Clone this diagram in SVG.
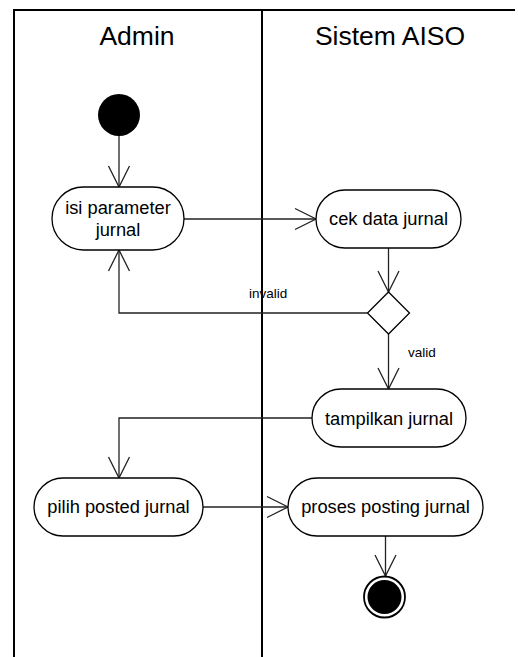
<svg xmlns="http://www.w3.org/2000/svg" width="518" height="657" viewBox="0 0 518 657">
<style>
.lane{stroke:#000;stroke-width:2;fill:none}
.hdr{font-family:"Liberation Sans",Arial,sans-serif;font-size:26.5px;fill:#000;text-anchor:middle}
.act{fill:#fff;stroke:#000;stroke-width:1.3}
.lbl{font-family:"Liberation Sans",Arial,sans-serif;font-size:18.3px;fill:#000;text-anchor:middle}
.guard{font-family:"Liberation Sans",Arial,sans-serif;font-size:13.5px;fill:#000}
.edge{fill:none;stroke:#222;stroke-width:1.3}
</style>
<defs>
<marker id="arr" viewBox="-22 -12 24 24" refX="0" refY="0" markerWidth="24" markerHeight="24" markerUnits="userSpaceOnUse" orient="auto">
<path d="M-21,-10.5 L0,0 L-21,10.5" fill="none" stroke="#222" stroke-width="1.3"/>
</marker>
</defs>
<rect width="518" height="657" fill="#fff"/>
<g id="swimlanes">
<path class="lane" d="M14,657 L14,10 L515,10"/>
<path class="lane" d="M262,10 L262,657"/>
<text class="hdr" x="137" y="45">Admin</text>
<text class="hdr" x="390" y="45">Sistem AISO</text>
</g>
<g id="connectors">
<path class="edge" d="M119,136 L119,187" marker-end="url(#arr)"/>
<path class="edge" d="M184,219 L316,219" marker-end="url(#arr)"/>
<path class="edge" d="M388.5,248 L388.5,292" marker-end="url(#arr)"/>
<path class="edge" d="M367.5,313 L119,313 L119,250" marker-end="url(#arr)"/>
<path class="edge" d="M388.5,334 L388.5,389" marker-end="url(#arr)"/>
<path class="edge" d="M312,418 L119,418 L119,478" marker-end="url(#arr)"/>
<path class="edge" d="M203,507 L288,507" marker-end="url(#arr)"/>
<path class="edge" d="M385.5,536 L385.5,576" marker-end="url(#arr)"/>
<text class="guard" x="249" y="298">invalid</text>
<text class="guard" x="408" y="357">valid</text>
</g>
<g id="start">
<circle cx="119" cy="115" r="21" fill="#000"/>
</g>
<g id="isi-parameter-jurnal">
<rect class="act" x="52" y="187" width="132" height="63" rx="31.5"/>
<text class="lbl" x="118" y="214">isi parameter</text>
<text class="lbl" x="118" y="236">jurnal</text>
</g>
<g id="cek-data-jurnal">
<rect class="act" x="316" y="190" width="145" height="58" rx="29"/>
<text class="lbl" x="388.5" y="225">cek data jurnal</text>
</g>
<g id="decision">
<path class="act" d="M388.5,292 L409.5,313 L388.5,334 L367.5,313 Z"/>
</g>
<g id="tampilkan-jurnal">
<rect class="act" x="312" y="389" width="154" height="58" rx="29"/>
<text class="lbl" x="389" y="424.5">tampilkan jurnal</text>
</g>
<g id="pilih-posted-jurnal">
<rect class="act" x="34" y="478" width="169" height="58" rx="29"/>
<text class="lbl" x="118.5" y="513">pilih posted jurnal</text>
</g>
<g id="proses-posting-jurnal">
<rect class="act" x="288" y="478" width="195" height="58" rx="29"/>
<text class="lbl" x="385.5" y="513">proses posting jurnal</text>
</g>
<g id="end">
<circle cx="384.5" cy="597" r="20.5" fill="#fff" stroke="#000" stroke-width="1.8"/>
<circle cx="384.5" cy="597" r="17" fill="#000"/>
</g>
</svg>
